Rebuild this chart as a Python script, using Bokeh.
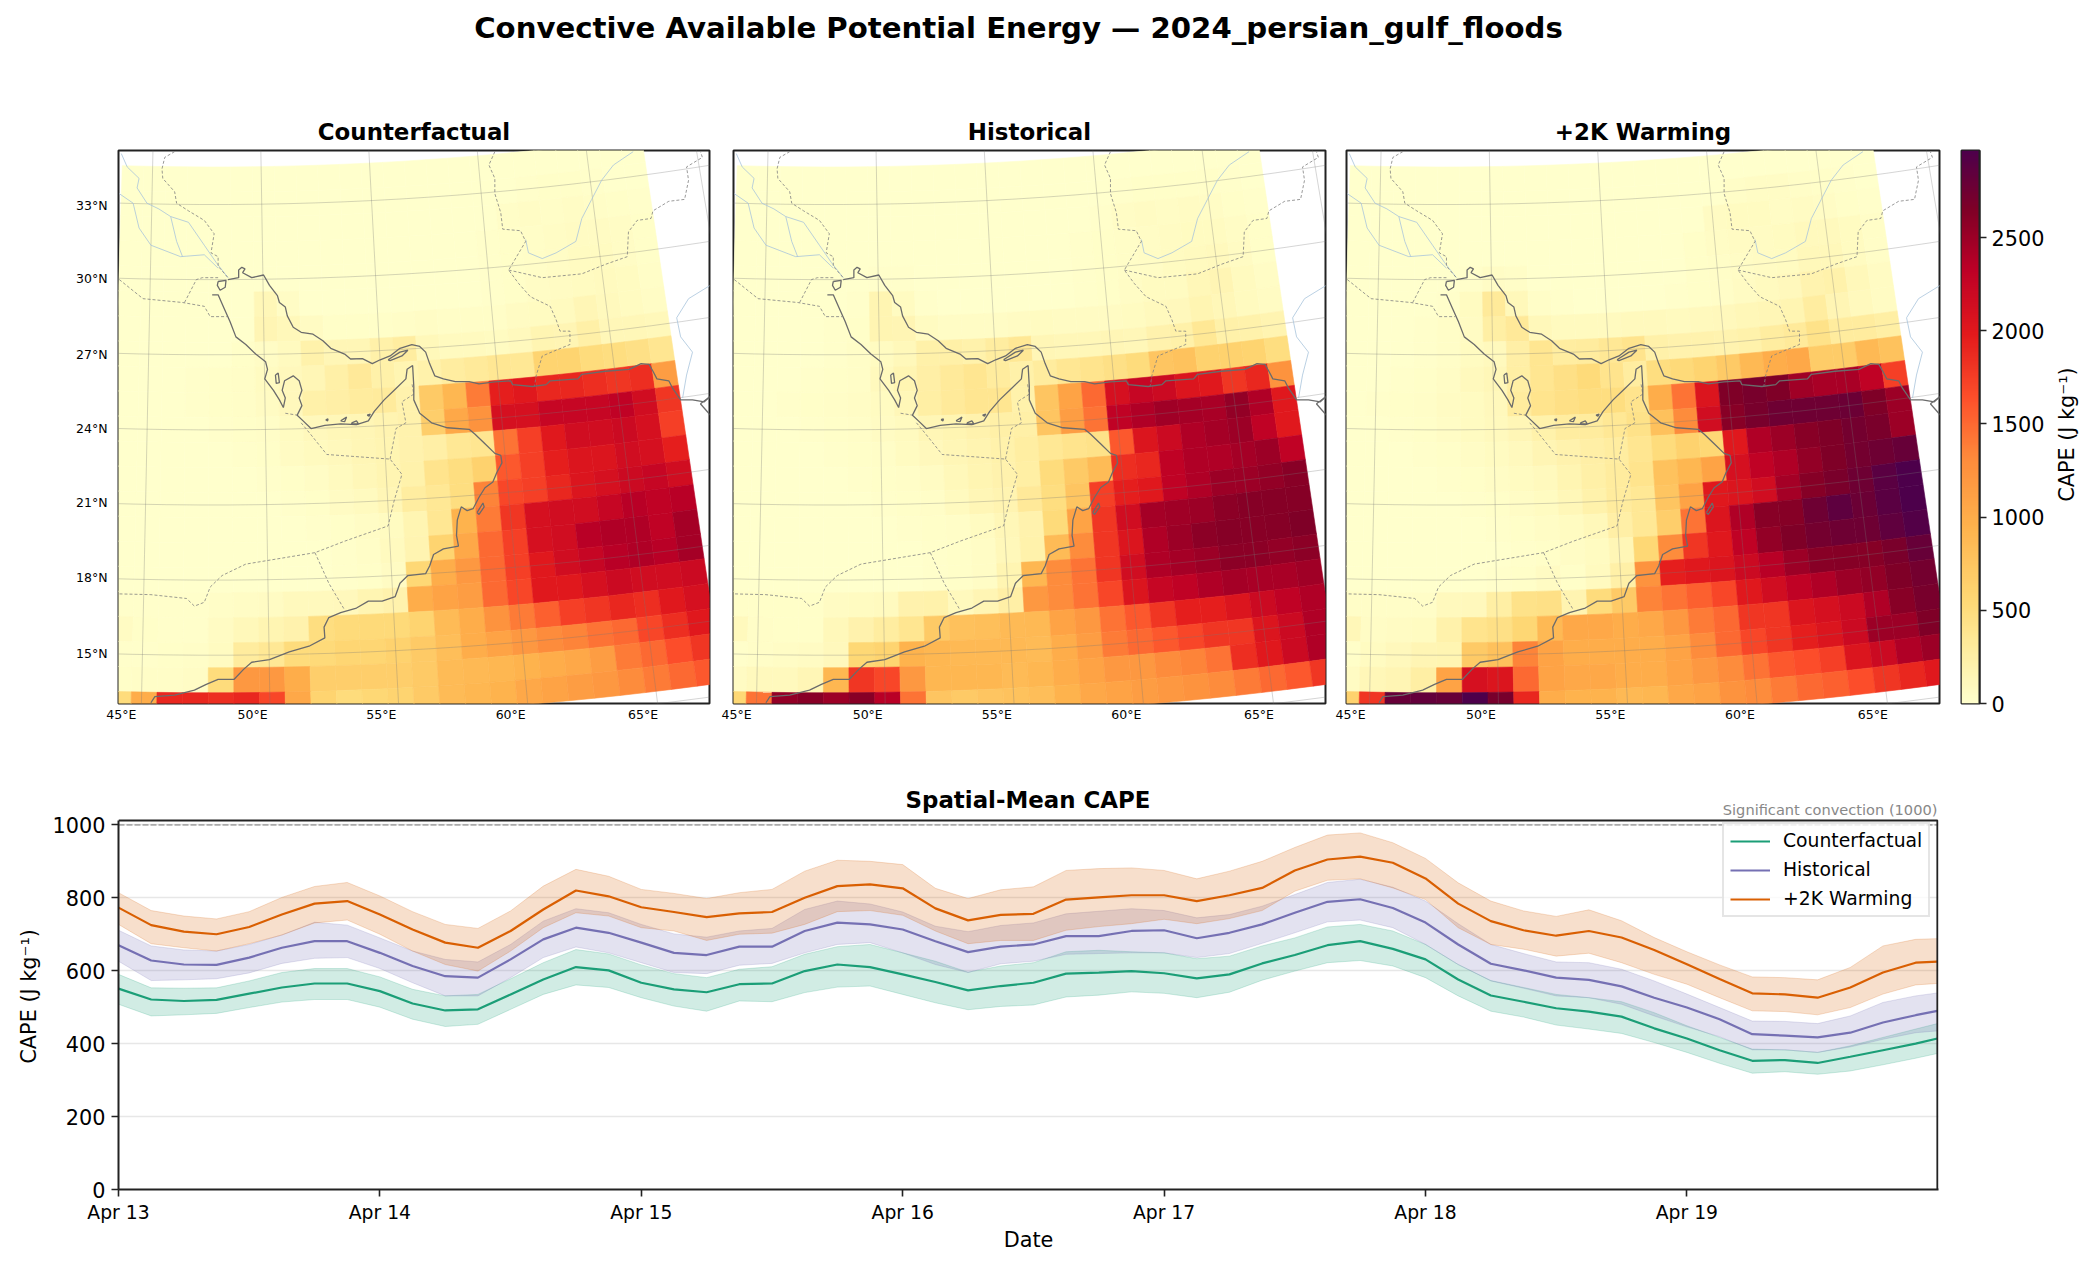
import math
import numpy as np
from bokeh.plotting import figure
from bokeh.layouts import column, row
from bokeh.models import Range1d, FixedTicker, LinearColorMapper, Label, ColumnDataSource
from bokeh.embed import file_html
from bokeh.resources import INLINE

FONT = "DejaVu Sans"
panel_titles = ["Counterfactual", "Historical", "+2K Warming"]
suptitle = "Convective Available Potential Energy \u2014 2024_persian_gulf_floods"
ts_title = "Spatial-Mean CAPE"
threshold_note = "Significant convection (1000)"
cape_label = "CAPE (J kg\u207b\u00b9)"

cf_grid = [
[5,5,5,5,5,5,5,5,5,5,5,5,5,5,5,5,5,5,5,5,5,5,5,5],
[5,5,5,5,5,5,5,5,5,5,5,5,5,5,5,5,5,10,20,30,30,20,10,10],
[10,10,5,5,5,5,5,5,5,5,5,5,5,5,5,5,10,40,50,40,50,40,30,20],
[10,10,10,5,5,5,5,5,5,5,5,5,5,5,5,10,20,30,40,50,60,60,50,30],
[10,10,10,10,5,5,10,10,5,5,5,5,5,5,5,10,20,30,40,50,70,70,50,30],
[10,10,10,10,10,10,130,50,10,5,5,5,5,5,5,10,20,30,50,60,80,90,70,40],
[10,10,10,10,10,10,160,120,60,30,30,30,40,50,40,40,40,60,80,90,150,100,80,50],
[10,10,10,10,10,30,50,90,220,150,150,230,280,120,90,90,80,100,170,160,240,130,130,120],
[10,10,10,20,30,40,70,110,150,240,330,230,170,220,280,320,360,350,600,600,500,480,450,380],
[10,10,10,20,30,40,60,110,230,250,300,310,200,700,900,1400,1950,2000,1900,1900,1850,1800,1850,1150],
[10,10,10,10,20,30,40,70,110,130,150,180,200,650,1050,1250,2100,2100,2250,2250,2250,2300,2150,1800],
[5,5,10,10,10,20,30,60,90,110,150,170,200,250,350,380,1450,1750,2000,2150,2150,2200,2100,1750],
[5,5,5,10,10,10,20,30,50,90,130,170,220,400,480,620,1600,1750,1950,2050,2050,2150,2100,1950],
[5,5,5,5,5,10,10,20,30,60,90,140,280,350,480,1350,1700,1750,1900,2050,2100,2200,2250,2150],
[5,5,5,5,5,5,10,10,20,30,50,80,170,360,950,1400,1800,2100,2150,2150,2250,2350,2300,2350],
[5,5,5,5,5,5,5,10,10,20,40,90,180,600,1050,1500,1750,2100,2150,2350,2400,2400,2300,2450],
[10,5,5,5,5,5,5,10,10,20,30,60,550,1000,1200,1500,1750,2000,2150,2250,2350,2400,2350,2450],
[20,20,20,20,40,50,60,100,100,110,170,200,1000,1100,1150,1500,1700,2000,2000,2100,2200,2150,2150,2200],
[60,30,20,20,60,120,170,200,480,520,530,530,600,850,1000,1250,1400,1550,1750,1800,1900,1850,2000,2100],
[20,20,30,40,70,300,350,500,530,580,580,620,700,830,1000,1100,1200,1300,1350,1450,1500,1700,1850,2000],
[30,40,40,50,500,1200,1200,1000,650,650,650,650,700,850,880,900,950,1000,1050,1150,1400,1500,1650,1800],
[500,1000,1900,1900,1850,1900,1700,1050,600,500,550,600,700,850,900,950,1050,1100,1150,1200,1300,1400,1500,1600],
]
hist_grid = [
[5,5,5,5,5,5,5,5,5,5,5,5,5,5,5,5,5,5,5,5,5,5,5,5],
[5,5,5,5,5,5,5,5,5,5,5,5,5,5,5,5,5,20,30,30,30,30,20,10],
[10,10,5,5,5,5,5,5,5,5,5,5,5,5,5,5,20,50,60,50,60,50,30,20],
[10,10,10,5,5,5,5,5,5,5,5,5,5,5,5,20,30,40,50,60,80,80,50,30],
[10,10,10,10,5,10,20,20,5,5,5,5,5,5,10,20,30,40,50,70,90,100,60,30],
[10,10,10,10,10,20,170,80,20,10,5,5,5,5,10,20,30,50,70,80,130,160,90,50],
[10,10,10,10,20,30,170,160,80,50,50,50,60,70,60,60,60,80,100,110,170,130,90,60],
[10,10,10,10,20,40,70,120,230,240,220,280,350,150,130,130,150,130,200,230,350,230,220,180],
[10,10,10,20,30,40,100,170,250,320,380,300,230,300,370,400,450,500,750,780,620,620,600,480],
[10,10,20,30,40,50,70,130,260,320,380,380,220,750,1100,1500,2100,2250,2200,2050,2000,1800,1900,1250],
[10,10,10,20,30,40,60,90,140,170,200,240,240,750,1150,1450,2300,2400,2480,2450,2430,2550,2400,2000],
[5,10,10,10,20,30,40,70,110,140,180,220,270,350,400,420,1600,2050,2200,2400,2450,2500,2300,2000],
[5,5,5,10,10,20,30,40,60,120,170,200,260,500,700,850,1850,1900,2300,2400,2400,2450,2500,2300],
[5,5,5,5,10,10,20,30,40,90,140,180,330,480,750,1750,1950,2000,2300,2400,2500,2500,2550,2600],
[5,5,5,5,5,5,10,20,30,40,70,130,200,520,1100,1800,2150,2450,2480,2500,2580,2620,2620,2620],
[5,5,5,5,5,5,10,10,20,30,50,120,220,850,1300,1800,2050,2400,2500,2580,2620,2600,2620,2650],
[10,5,5,5,5,5,10,10,20,30,50,170,900,1300,1450,1800,2150,2400,2450,2500,2580,2580,2550,2580],
[30,30,30,30,60,80,90,200,210,100,160,250,1200,1300,1450,1700,2050,2250,2300,2400,2450,2430,2430,2480],
[100,40,30,30,120,200,280,380,700,800,820,870,880,1100,1200,1450,1600,1800,1950,1950,2050,2200,2300,2400],
[20,40,50,60,110,550,600,950,900,880,880,880,850,1000,1150,1400,1500,1600,1700,1800,1800,2050,2200,2400],
[60,100,100,150,900,1800,1700,1200,900,900,900,850,900,1000,1100,1200,1200,1300,1350,1450,1850,2000,2200,2400],
[550,1450,2550,2600,2500,2600,2350,1450,750,700,750,780,830,950,1050,1100,1150,1200,1250,1300,1400,1500,1600,1800],
]
warm_grid = [
[5,5,5,5,5,5,5,5,5,5,5,5,5,5,5,5,5,5,5,5,5,5,5,5],
[5,5,5,5,5,5,5,5,5,5,5,5,5,5,5,5,10,40,50,50,40,30,20,10],
[10,10,5,5,5,5,5,5,5,5,5,5,5,5,5,5,60,70,70,50,60,50,30,20],
[10,10,10,5,5,5,5,5,5,5,5,5,5,5,5,30,50,60,60,80,100,100,70,40],
[10,10,10,10,10,20,50,40,10,5,5,5,5,10,10,30,40,50,60,80,120,120,70,40],
[10,10,10,10,20,70,320,120,40,20,10,10,10,10,20,30,40,60,90,110,190,220,120,60],
[10,10,10,20,40,60,260,330,120,90,90,90,100,100,90,100,110,130,150,170,290,160,100,60],
[10,10,10,20,40,70,100,250,380,280,300,350,400,230,200,200,190,220,280,320,420,300,300,260],
[10,10,20,30,50,100,130,260,380,450,520,400,280,480,530,600,700,880,1000,1050,680,680,880,780],
[10,20,30,40,60,80,110,300,400,450,480,480,400,1000,1450,2050,2650,2700,2650,2480,2430,2430,2300,1750],
[10,10,20,30,50,70,100,150,220,280,300,350,420,800,1300,2150,2600,2700,2760,2760,2760,2780,2650,2500],
[10,10,10,20,30,50,70,100,160,200,250,280,380,500,620,550,2000,2400,2500,2600,2650,2720,2680,2500],
[5,5,10,10,20,30,50,70,100,170,240,300,400,780,900,1100,2100,2300,2400,2550,2650,2720,2760,2800],
[5,5,5,10,10,20,30,50,70,130,220,300,350,750,1100,2000,2050,2150,2450,2620,2680,2760,2880,2960],
[5,5,5,5,10,10,20,30,50,70,120,250,350,650,1450,2050,2400,2600,2620,2760,2860,2780,2880,2970],
[5,5,5,5,5,10,10,20,30,50,80,150,550,1300,1800,2000,2300,2550,2650,2720,2760,2750,2850,2930],
[10,5,5,5,10,10,20,30,60,30,90,240,1250,1950,2000,2050,2200,2350,2500,2600,2620,2620,2680,2800],
[40,40,40,40,100,110,260,420,450,180,500,700,1350,1450,1550,1700,2000,2150,2300,2400,2500,2550,2650,2720],
[130,50,60,80,220,400,450,560,880,1050,1050,1000,1050,1200,1400,1500,1800,1800,2050,2100,2200,2400,2600,2700],
[30,70,110,160,170,700,800,1350,1100,1000,1000,1000,1000,1100,1300,1500,1700,1800,1950,2050,2200,2500,2500,2650],
[60,130,160,260,1100,2100,2050,1500,1100,1050,1050,1000,1000,1100,1200,1300,1450,1600,1650,1750,2050,2200,2400,2500],
[620,1800,2800,2820,2800,2970,2700,1900,1000,950,950,880,900,1050,1100,1250,1300,1400,1500,1550,1650,1800,1900,2000],
]

# Hours since Apr 13 00:00
hours = [0,3,6,9,12,15,18,21,24,27,30,33,36,39,42,45,48,51,54,57,60,63,66,69,72,75,78,81,84,87,90,93,96,99,102,105,108,111,114,117,120,123,126,129,132,135,138,141,144,147,150,153,156,159,162,165,167]
cf_mean = [551,521,517,520,537,554,565,565,544,510,491,494,535,576,610,601,567,549,541,563,565,599,617,610,590,569,546,558,567,592,595,599,593,579,590,620,643,670,681,660,631,576,532,515,497,488,474,442,414,382,353,355,347,364,382,400,414]
cf_hi = [590,553,552,553,572,595,606,606,583,549,531,535,578,622,658,646,616,592,581,604,611,645,666,672,649,626,596,613,622,652,656,652,649,633,640,668,690,720,727,709,672,617,573,554,535,526,515,485,449,417,385,383,376,394,417,440,455]
cf_lo = [508,476,479,483,499,514,521,521,500,467,447,453,494,535,561,554,526,503,489,517,515,540,555,558,535,512,493,502,506,528,533,542,538,526,541,574,599,622,628,613,581,531,489,473,451,440,428,403,376,346,319,323,316,325,342,360,373]
hist_mean = [670,628,617,616,636,663,681,681,649,613,585,581,631,686,718,704,677,649,643,666,666,709,732,727,713,681,651,666,672,695,695,709,711,689,704,727,759,789,796,772,732,672,619,601,581,575,557,526,499,467,426,422,417,430,458,478,490]
hist_hi = [711,668,657,654,672,698,733,725,690,654,631,624,672,736,770,759,727,701,692,709,716,768,791,783,761,722,707,724,731,756,763,770,765,745,754,777,809,842,851,829,791,729,672,647,624,622,604,572,536,499,462,461,455,476,513,531,539]
hist_lo = [626,573,575,578,594,620,634,636,606,567,531,531,581,636,665,649,622,595,592,615,620,649,672,677,649,617,595,619,626,645,647,649,649,636,647,675,704,734,739,718,672,617,572,552,531,526,508,476,446,419,383,383,376,391,412,430,435]
warm_mean = [773,725,707,700,720,754,784,791,754,713,677,663,709,768,820,804,774,761,747,757,761,800,832,837,826,771,738,753,756,795,801,807,807,791,807,827,875,905,913,896,853,784,736,711,696,709,691,657,618,577,538,535,526,554,595,622,625]
warm_hi = [814,765,750,742,762,801,831,842,805,762,727,716,764,832,878,859,823,812,798,814,823,873,903,900,891,826,798,822,830,875,880,882,875,852,873,900,938,972,978,951,908,841,791,764,749,767,737,691,652,616,583,581,575,609,668,686,688]
warm_lo = [727,674,663,654,674,698,731,739,700,654,617,599,654,718,759,750,718,709,683,700,703,727,762,765,752,709,674,683,683,711,721,729,741,729,743,765,818,848,852,827,795,718,672,659,640,648,622,590,563,526,490,488,479,499,536,561,565]

series_names = ["Counterfactual", "Historical", "+2K Warming"]
date_labels = ["Apr 13", "Apr 14", "Apr 15", "Apr 16", "Apr 17", "Apr 18", "Apr 19"]
lon_labels = ["45\u00b0E", "50\u00b0E", "55\u00b0E", "60\u00b0E", "65\u00b0E"]
lat_labels = ["33\u00b0N", "30\u00b0N", "27\u00b0N", "24\u00b0N", "21\u00b0N", "18\u00b0N", "15\u00b0N"]

# Geography, in projected map-plane units
coast_lines = [
 [(325,390),(352,385),(352,365),(360,358),(368,362),(362,372),(385,385),(415,378),(430,405),(450,432),(455,450),(470,462),(475,485),(490,515),(510,528),(540,533),(565,550),(585,570),(620,585),(635,598),(665,597),(690,610),(710,600),(735,590),(760,570),(790,560),(810,565),(825,580),(835,610),(848,642),(870,650),(900,657),(935,657),(960,663),(1000,658),(1040,655),(1045,665),(1095,670),(1130,665),(1140,655),(1210,650),(1220,638),(1280,630),(1340,625),(1370,610),(1390,612),(1400,630),(1410,650),(1440,655),(1450,675),(1470,705),(1500,705),(1530,710),(1545,695)],
 [(1520,715),(1540,700),(1545,700)],[(1520,715),(1545,745)],
 [(300,395),(320,392),(318,410),(305,418),(298,405),(300,395)],
 [(285,430),(300,430),(315,465),(330,500),(345,540),(370,560),(395,585),(420,605),(425,625),(418,650),(440,680),(455,705),(465,725),(470,700),(462,680),(468,655),(490,642),(505,655),(512,680),(505,700),(512,720),(500,745),(515,760),(535,780),(570,772),(610,768),(650,770),(680,760),(695,735),(720,705),(750,675),(775,650),(778,625),(792,615),(795,670),(795,705),(810,740),(840,765),(880,778),(935,782),(950,795),(975,820),(1000,845),(1015,850),(1018,870),(1005,895),(995,920),(975,935),(960,960),(945,990),(930,995),(915,985),(905,1020),(903,1060),(908,1088),(870,1095),(845,1110),(835,1140),(825,1160),(780,1165),(760,1185),(748,1220),(715,1232),(680,1232),(650,1250),(610,1262),(580,1275),(568,1300),(570,1328),(530,1350),(480,1365),(430,1385),(385,1392),(365,1410),(340,1437),(300,1437),(270,1450),(240,1465),(190,1478),(140,1482),(130,1498)],
 [(730,600),(760,580),(780,575),(765,590),(735,602),(730,600)],
 [(445,640),(452,635),(455,660),(447,662),(445,640)],
 [(955,1000),(970,975),(973,985),(960,1005),(955,1000)],
 [(610,760),(625,750),(620,762),(610,760)],
 [(638,765),(650,760),(655,768),(638,768),(638,765)],
 [(677,745),(685,742),(682,748),(677,745)],
 [(572,757),(578,755),(577,760),(572,757)],
]
border_lines = [
 [(190,55),(165,70),(158,100),(160,125),(190,160),(195,190),(225,210),(265,235),(290,270),(282,320),(300,330),(300,355),(325,385)],
 [(50,390),(110,440),(210,450),(265,460),(280,487),(322,487)],
 [(215,450),(245,390),(260,385),(300,385)],
 [(510,765),(530,790),(575,848),(735,860),(765,900),(745,970),(730,1035),(620,1075),(545,1105),(370,1135),(310,1165),(280,1195),(265,1235),(240,1245),(220,1225),(130,1215),(50,1213)],
 [(545,1105),(580,1185),(620,1255)],
 [(470,740),(500,745)],
 [(735,860),(750,780),(775,765),(765,710),(795,690),(790,660)],
 [(1000,55),(985,90),(1000,125),(1000,165),(1015,215),(1020,258),(1065,262),(1078,290),(1035,365),(1060,400),(1090,435),(1140,460),(1155,495),(1165,525),(1190,525),(1190,560),(1120,590),(1105,640),(1100,670)],
 [(1035,365),(1120,385),(1220,375),(1280,350),(1335,330),(1338,265),(1360,235),(1395,230),(1400,210),(1440,185),(1480,180),(1490,130),(1485,95),(1525,70),(1520,55)],
]
river_lines = [
 [(55,60),(70,95),(100,125),(95,150),(120,190),(150,205),(180,225),(225,240),(265,300),(295,345),(325,385)],
 [(50,165),(85,190),(100,255),(130,300),(205,330),(265,325),(300,360)],
 [(180,225),(195,290),(210,330)],
 [(1350,55),(1300,90),(1270,130),(1245,180),(1220,230),(1205,290),(1155,320),(1120,335),(1085,320),(1078,285)],
 [(1545,405),(1490,440),(1460,490),(1470,540),(1500,580),(1485,640),(1475,700)],
]

# Conic map projection
XC, YC, LON0, N_RAD, R33, R_DEG = 288.0, -7528.0, 47.8, 0.0072, 7721.5, 65.56
def project(lon, lat):
    r = R33 + (33.0 - np.asarray(lat, float)) * R_DEG
    th = N_RAD * (np.asarray(lon, float) - LON0)
    return XC + r * np.sin(th), YC + r * np.cos(th)

stops_v = [0, 280, 540, 950, 1300, 1650, 1980, 2330, 2650, 2970]
stops_c = ["#ffffcc","#ffeda0","#fed976","#feb24c","#fd8d3c","#fc4e2a","#e31a1c","#bd0026","#800026","#4d004b"]
def build_palette(n=256):
    rgb = np.array([[int(c[i:i+2],16) for i in (1,3,5)] for c in stops_c], float)
    t = np.linspace(0, 2970, n)
    return ["#%02x%02x%02x" % tuple(int(round(np.interp(v, stops_v, rgb[:,j]))) for j in range(3)) for v in t]
palette = build_palette()
mapper = LinearColorMapper(palette=palette, low=0, high=2970)

MX0, MX1, MY0, MY1 = 48, 1543, 52, 1500
LON_W, LAT_N = 43.6, 34.5
lon_ticks_at = [55, 387, 713, 1040, 1375]
lat_ticks_at = [197, 387, 585, 780, 975, 1170, 1370]

def map_panel(grid, title, fw, bl, br, left_axis):
    fh = 553
    p = figure(width=bl+fw+br, height=42+fh+26, frame_width=fw, frame_height=fh,
               min_border_left=bl, min_border_right=br, min_border_top=42, min_border_bottom=26,
               x_range=Range1d(MX0, MX1), y_range=Range1d(MY1, MY0),
               toolbar_location=None, output_backend="svg", y_axis_location="left")
    p.title.text = title
    p.title.align = "center"
    p.title.text_font = FONT
    p.title.text_font_size = "22.9px"
    p.title.text_font_style = "bold"
    p.title.text_color = "black"
    p.title.standoff = 12
    p.grid.visible = False
    p.outline_line_color = "#222222"
    p.outline_line_width = 2
    p.outline_line_alpha = 1
    p.background_fill_color = "white"
    xs, ys, vs = [], [], []
    for i, rw in enumerate(grid):
        for k, v in enumerate(rw):
            lo = [LON_W+k, LON_W+k+1, LON_W+k+1, LON_W+k]
            la = [LAT_N-i, LAT_N-i, LAT_N-i-1, LAT_N-i-1]
            x, y = project(lo, la)
            xs.append(list(x)); ys.append(list(y)); vs.append(v)
    src = ColumnDataSource(dict(xs=xs, ys=ys, v=vs))
    tr = dict(field="v", transform=mapper)
    p.patches("xs", "ys", source=src, fill_color=tr, line_color=tr, line_width=0.6)
    gx, gy = [], []
    for lon in [45, 50, 55, 60, 65, 70]:
        la = np.linspace(10, 37, 10)
        x, y = project(np.full_like(la, lon), la)
        gx.append(list(x)); gy.append(list(y))
    for lat in [12, 15, 18, 21, 24, 27, 30, 33, 36]:
        lo = np.linspace(38, 76, 30)
        x, y = project(lo, np.full_like(lo, lat))
        gx.append(list(x)); gy.append(list(y))
    p.multi_line(gx, gy, line_color="#777777", line_alpha=0.35, line_width=0.9)
    def ml(lines, **kw):
        p.multi_line([[a for a, _ in l] for l in lines], [[b for _, b in l] for l in lines], **kw)
    ml(river_lines, line_color="#a8c4dc", line_width=0.8)
    ml(border_lines, line_color="#808080", line_width=0.8, line_dash="3 2")
    ml(coast_lines, line_color="#6b6b6b", line_width=1.3)
    ax = p.xaxis[0]
    ax.ticker = FixedTicker(ticks=lon_ticks_at)
    ax.major_label_overrides = {float(t): s for t, s in zip(lon_ticks_at, lon_labels)}
    ax.axis_line_color = None
    ax.major_tick_line_color = None
    ax.minor_tick_line_color = None
    ax.major_tick_out = 0
    ax.major_tick_in = 0
    ax.major_label_text_font = FONT
    ax.major_label_text_font_size = "12.5px"
    ax.major_label_text_color = "black"
    ax.major_label_standoff = 3
    ay = p.yaxis[0]
    if left_axis:
        ay.ticker = FixedTicker(ticks=lat_ticks_at)
        ay.major_label_overrides = {float(t): s for t, s in zip(lat_ticks_at, lat_labels)}
        ay.axis_line_color = None
        ay.major_tick_line_color = None
        ay.minor_tick_line_color = None
        ay.major_tick_out = 0
        ay.major_tick_in = 0
        ay.major_label_text_font = FONT
        ay.major_label_text_font_size = "12.5px"
        ay.major_label_text_color = "black"
        ay.major_label_standoff = 11
    else:
        ay.visible = False
    return p

p1 = map_panel(cf_grid, panel_titles[0], 591, 118, 12, True)
p2 = map_panel(hist_grid, panel_titles[1], 592, 12, 10, False)
p3 = map_panel(warm_grid, panel_titles[2], 593, 11, 10, False)

# colour bar
cb = figure(width=12+18+72, height=42+553+26, frame_width=18, frame_height=553,
            min_border_left=12, min_border_right=72, min_border_top=42, min_border_bottom=26,
            x_range=Range1d(0, 1), y_range=Range1d(0, 2967), toolbar_location=None,
            output_backend="svg", y_axis_location="right")
cb.image(image=[np.linspace(0, 2970, 256).reshape(256, 1)], x=0, y=0, dw=1, dh=2967, color_mapper=mapper)
cb.xaxis.visible = False
cb.grid.visible = False
cb.outline_line_color = "#222222"
cb.outline_line_width = 2
cay = cb.yaxis[0]
cay.ticker = FixedTicker(ticks=[0, 500, 1000, 1500, 2000, 2500])
cay.minor_tick_line_color = None
cay.major_tick_in = 0
cay.major_tick_out = 7
cay.major_tick_line_color = "#222222"
cay.major_tick_line_width = 1.6
cay.axis_line_color = "#222222"
cay.axis_line_width = 2
cay.major_label_text_font = FONT
cay.major_label_text_font_size = "20.8px"
cay.major_label_text_color = "black"
cay.major_label_orientation = "horizontal"

def blank(w, h):
    f = figure(width=w, height=h, x_range=Range1d(0, w), y_range=Range1d(h, 0),
               x_axis_type=None, y_axis_type=None, toolbar_location=None, output_backend="svg",
               min_border_left=0, min_border_right=0, min_border_top=0, min_border_bottom=0)
    f.grid.visible = False
    f.outline_line_color = None
    return f

cbl = blank(44, 621)
cbl.add_layout(Label(x=15, y=319, text=cape_label, text_align="center", text_baseline="middle",
                     angle=math.pi/2, text_font=FONT, text_font_size="20.8px", text_color="black"))

# time series: the frame reaches above the boxed plot area to hold the title and note
TS_BOX_TOP = 1012
ts = figure(width=70+1820+39, height=57+403+70, frame_width=1820, frame_height=403,
            min_border_left=70, min_border_right=39, min_border_top=57, min_border_bottom=70,
            x_range=Range1d(0, 167.1), y_range=Range1d(0, 1105.2), toolbar_location=None,
            output_backend="svg")
ts.outline_line_color = None
ts.xgrid.visible = False
ts.ygrid.grid_line_color = "#b0b0b0"
ts.ygrid.grid_line_alpha = 0.3
ts.ygrid.grid_line_width = 1.6
ts.ygrid.ticker = FixedTicker(ticks=[200, 400, 600, 800, 1000])
for name, colr, m, hi, lo in [(series_names[0], "#1b9e77", cf_mean, cf_hi, cf_lo),
                              (series_names[1], "#7570b3", hist_mean, hist_hi, hist_lo),
                              (series_names[2], "#d95f02", warm_mean, warm_hi, warm_lo)]:
    ts.varea(x=hours, y1=lo, y2=hi, fill_color=colr, fill_alpha=0.2)
    ts.line(hours, hi, line_color=colr, line_alpha=0.2, line_width=1)
    ts.line(hours, lo, line_color=colr, line_alpha=0.2, line_width=1)
for name, colr, m in [(series_names[0], "#1b9e77", cf_mean), (series_names[1], "#7570b3", hist_mean), (series_names[2], "#d95f02", warm_mean)]:
    ts.line(hours, m, line_color=colr, line_width=2.2, legend_label=name)
ts.line([0, 167], [1000, 1000], line_color="#aaaaaa", line_width=1.8, line_dash="6 2")
ts.line([0, 167, 167], [TS_BOX_TOP, TS_BOX_TOP, 0], line_color="#222222", line_width=2)
ts.add_layout(Label(x=83.5, y=1067, text=ts_title, text_align="center", text_baseline="middle",
                    text_font=FONT, text_font_size="22.9px", text_font_style="bold", text_color="black"))
ts.add_layout(Label(x=167, y=1042, text=threshold_note, text_align="right", text_baseline="middle",
                    text_font=FONT, text_font_size="14.6px", text_color="#888888"))
lg = ts.legend[0]
lg.location = (1604, 272)
lg.label_text_font = FONT
lg.label_text_font_size = "18.75px"
lg.label_text_color = "black"
lg.border_line_color = "#cccccc"
lg.border_line_width = 2
lg.background_fill_alpha = 0.8
lg.glyph_width = 40
lg.glyph_height = 20
lg.label_standoff = 13
lg.spacing = 8
lg.padding = 6
lg.margin = 0
ax = ts.xaxis[0]
day_ticks = [0, 24, 48, 72, 96, 120, 144]
ax.ticker = FixedTicker(ticks=day_ticks)
ax.major_label_overrides = {t: s for t, s in zip(day_ticks, date_labels)}
ax.axis_label = "Date"
ay = ts.yaxis[0]
ay.ticker = FixedTicker(ticks=[0, 200, 400, 600, 800, 1000])
ay.bounds = (0, TS_BOX_TOP)
for a in (ax, ay):
    a.major_label_text_font = FONT
    a.major_label_text_color = "black"
    a.major_tick_in = 0
    a.major_tick_out = 7
    a.major_tick_line_width = 1.6
    a.major_tick_line_color = "#222222"
    a.minor_tick_line_color = None
    a.axis_line_color = "#222222"
    a.axis_line_width = 2
ax.axis_label_text_font = FONT
ax.axis_label_text_font_size = "20.8px"
ax.axis_label_text_font_style = "normal"
ax.axis_label_text_color = "black"
ax.major_label_text_font_size = "18.75px"
ay.major_label_text_font_size = "20.8px"
ax.axis_label_standoff = 2
ay.major_label_standoff = 6

# y label of the time series sits beside it, centred on the boxed area
tsl = blank(48, 530)
tsl.add_layout(Label(x=28, y=276, text=cape_label, text_align="center", text_baseline="middle",
                     angle=math.pi/2, text_font=FONT, text_font_size="20.8px", text_color="black"))

# figure heading
head = blank(2081, 108)
head.add_layout(Label(x=1018, y=27, text=suptitle, text_align="center", text_baseline="middle",
                      text_font=FONT, text_font_size="29.2px", text_font_style="bold", text_color="black"))

page = column(head, row(p1, p2, p3, cb, cbl, spacing=0), row(tsl, ts, spacing=0), spacing=0)
open("out.html", "w").write(file_html(page, INLINE))
